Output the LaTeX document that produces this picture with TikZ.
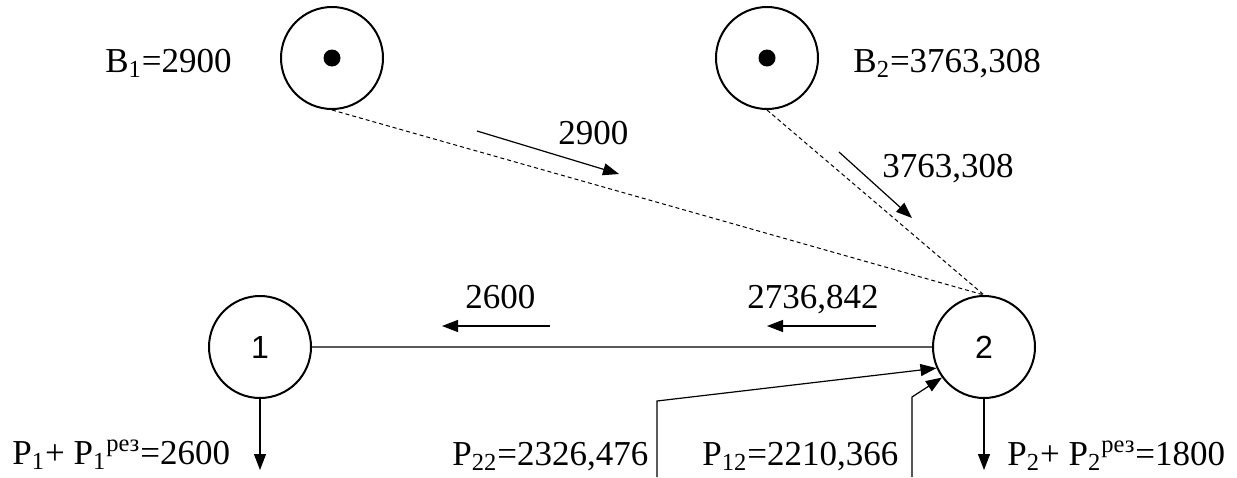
\documentclass[tikz,border=0pt]{standalone}
\usepackage{fontspec}
\setmainfont{Liberation Serif}
\newfontfamily\arialfont{Liberation Sans}
\usetikzlibrary{arrows.meta}
\begin{document}
\begin{tikzpicture}[x=0.5pt,y=-0.5pt,
 lbl/.style={anchor=base west, inner sep=0pt, font=\fontsize{17.5}{20}\selectfont},
 bus/.style={circle, draw, line width=1pt, minimum size=51pt, inner sep=0pt, font=\arialfont\fontsize{16}{18}\selectfont},
 gen/.style={circle, draw, line width=1pt, minimum size=51pt, inner sep=0pt},
 dotc/.style={circle, fill, minimum size=8.5pt, inner sep=0pt},
 flow/.style={line width=0.6pt, -{Triangle[length=8pt,width=6pt]}},
 tie/.style={line width=0.5pt, dash pattern=on 2pt off 1.5pt},
 link/.style={line width=1pt, draw=black!65},
]
\useasboundingbox (0,0) rectangle (1237,477);
% generators
\node[gen] (b1) at (332,58) {};
\node[dotc] (d1) at (332,58) {};
\node[gen] (b2) at (767,58) {};
\node[dotc] (d2) at (767,58) {};
% buses
\node[bus] (n1) at (260,347) {1};
\node[bus] (n2) at (984,347) {2};
% labels
\node[lbl] (tb1) at (105,72) {B\textsubscript{1}=2900};
\node[lbl] (tb2) at (853,72) {B\textsubscript{2}=3763,308};
\node[lbl] (t2900) at (558,144) {2900};
\node[lbl] (t3763) at (882,177) {3763,308};
\node[lbl] (t2600) at (465,308) {2600};
\node[lbl] (t2736) at (747,308) {2736,842};
\node[lbl] (tp1) at (12,464) {P\textsubscript{1}+ P\textsubscript{1}\textsuperscript{рез}=2600};
\node[lbl] (tp22) at (452,465) {P\textsubscript{22}=2326,476};
\node[lbl] (tp12) at (702,465) {P\textsubscript{12}=2210,366};
\node[lbl] (tp2) at (1007,465) {P\textsubscript{2}+ P\textsubscript{2}\textsuperscript{рез}=1800};
% free ends
\coordinate (f1s) at (477,131); \coordinate (f1e) at (619,174);
\coordinate (f2s) at (839,152); \coordinate (f2e) at (912,218);
\coordinate (f3s) at (550,326); \coordinate (f3e) at (442,326);
\coordinate (f4s) at (876,326); \coordinate (f4e) at (767,326);
\coordinate (l1) at (260,470); \coordinate (l2) at (984,470);
\coordinate (p22a) at (657,477); \coordinate (p22b) at (657,401);
\coordinate (p12a) at (912,477); \coordinate (p12b) at (912,397);
% connectors
\draw[tie] (b1.south) -- (n2.north);
\draw[tie] (b2.south) -- (n2.north);
\draw[link] (n1.east) -- (n2.west);
\draw[flow] (f1s) -- (f1e);
\draw[flow] (f2s) -- (f2e);
\draw[flow] (f3s) -- (f3e);
\draw[flow] (f4s) -- (f4e);
\draw[flow] (n1.south) -- (l1);
\draw[flow] (n2.south) -- (l2);
\draw[flow] (p22a) -- (p22b) -- (n2.204);
\draw[flow] (p12a) -- (p12b) -- (n2.216);
\end{tikzpicture}
\end{document}
